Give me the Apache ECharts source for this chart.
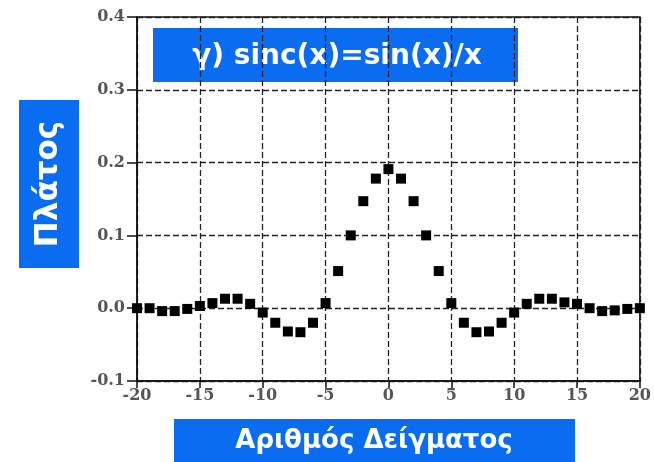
<!DOCTYPE html>
<html>
<head>
<meta charset="utf-8">
<script src="https://cdn.jsdelivr.net/npm/echarts@6/dist/echarts.min.js"></script>
<style>
  html, body { margin: 0; padding: 0; background: #fff; }
  #main { width: 654px; height: 462px; }
</style>
</head>
<body>
<div id="main"></div>
<script>
// δείγματα -20..20 και πλάτος sinc όπως διαβάζεται από το σχήμα
var samples = [-20, -19, -18, -17, -16, -15, -14, -13, -12, -11, -10, -9, -8, -7, -6, -5, -4, -3, -2, -1,
  0, 1, 2, 3, 4, 5, 6, 7, 8, 9, 10, 11, 12, 13, 14, 15, 16, 17, 18, 19, 20];
var amplitude = [0.000, 0.000, -0.004, -0.004, -0.001, 0.003, 0.007, 0.013, 0.013, 0.006, -0.006, -0.020, -0.032, -0.033, -0.020, 0.007, 0.051, 0.100, 0.147, 0.178,
  0.191, 0.178, 0.147, 0.100, 0.051, 0.007, -0.020, -0.033, -0.032, -0.020, -0.006, 0.006, 0.013, 0.013, 0.008, 0.006, 0.000, -0.004, -0.003, -0.001, 0.000];

var titleText = "γ) sinc(x)=sin(x)/x";
var xName = "Αριθμός Δείγματος";
var yName = "Πλάτος";
var blue = "#0a6cf0";

var chart = echarts.init(document.getElementById("main"));

var points = samples.map(function (s, i) { return [s, amplitude[i]]; });

var gridLine = { show: true, lineStyle: { color: "#222", type: [6, 3], width: 1.3 } };
var labelFont = { fontFamily: "DejaVu Serif", fontSize: 16, fontWeight: "bold", color: "#555" };

chart.setOption({
  animation: false,
  grid: {
    left: 137, right: 14, top: 17, bottom: 81,
    show: true, borderColor: "#111", borderWidth: 1.5, backgroundColor: "transparent"
  },
  xAxis: {
    type: "value", min: -20, max: 20, interval: 5,
    axisLine: { onZero: false, lineStyle: { color: "#111", width: 1.5 } },
    axisTick: { show: true, length: 7, lineStyle: { color: "#111", width: 1.5 } },
    axisLabel: Object.assign({ margin: 7 }, labelFont),
    splitLine: gridLine
  },
  yAxis: {
    type: "value", min: -0.1, max: 0.4, interval: 0.1,
    axisLine: { show: true, onZero: false, lineStyle: { color: "#111", width: 1.5 } },
    axisTick: { show: true, length: 10, lineStyle: { color: "#111", width: 1.5 } },
    axisLabel: Object.assign({ margin: 12, formatter: function (v) { return v.toFixed(1); } }, labelFont),
    splitLine: gridLine
  },
  series: [{
    type: "scatter",
    data: points,
    symbol: "rect",
    symbolSize: 10,
    itemStyle: { color: "#000", opacity: 1 },
    z: 5
  }],
  graphic: [
    {
      type: "group", left: 153, top: 28, z: 100,
      children: [
        { type: "rect", shape: { x: 0, y: 0, width: 365, height: 54 }, style: { fill: blue } },
        { type: "text", x: 184, y: 29, style: { text: titleText, fill: "#fff", font: "bold 28px 'DejaVu Sans'", align: "center", verticalAlign: "middle" } }
      ]
    },
    {
      type: "group", left: 19, top: 100, z: 100,
      children: [
        { type: "rect", shape: { x: 0, y: 0, width: 60, height: 168 }, style: { fill: blue } },
        { type: "text", x: 30, y: 84, rotation: Math.PI / 2, style: { text: yName, fill: "#fff", font: "bold 31px 'DejaVu Sans'", align: "center", verticalAlign: "middle" } }
      ]
    },
    {
      type: "group", left: 174, top: 419, z: 100,
      children: [
        { type: "rect", shape: { x: 0, y: 0, width: 401, height: 43 }, style: { fill: blue } },
        { type: "text", x: 200, y: 22, style: { text: xName, fill: "#fff", font: "bold 26px 'DejaVu Sans'", align: "center", verticalAlign: "middle" } }
      ]
    }
  ]
});
</script>
</body>
</html>
